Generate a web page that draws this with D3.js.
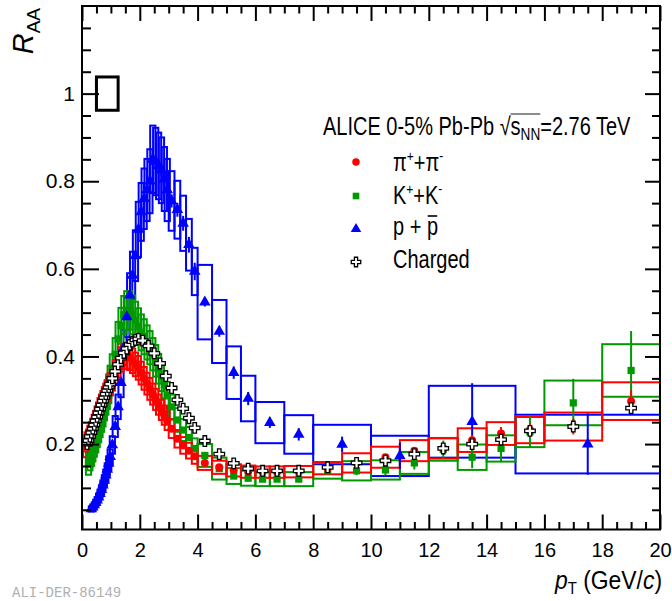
<!DOCTYPE html>
<html>
<head>
<meta charset="utf-8">
<script src="https://cdn.jsdelivr.net/npm/d3@7"></script>
<style>
  body { margin: 0; background: #fff; }
  text { font-family: "Liberation Sans", Arial, sans-serif; }
</style>
</head>
<body>
<div id="chart"></div>
<script>
// ---- data ----
// pions
const edgesPi = [0.1,0.15,0.2,0.25,0.3,0.35,0.4,0.45,0.5,0.55,0.6,0.65,0.7,0.75,0.8,0.85,0.9,0.95,1.0,
  1.1,1.2,1.3,1.4,1.5,1.6,1.7,1.8,1.9,2.0, 2.1,2.2,2.3,2.4,2.5,2.6,2.7,2.8,2.9,3.0,
  3.2,3.4,3.6,3.8,4.0, 4.5,5,5.5,6,6.5,7,8,9,10,11,12,13,14,15,16,18,20];
const raaPi = [0.195,0.205,0.213,0.222,0.23,0.238,0.247,0.256,0.265,0.274,0.283,0.291,0.299,0.307,0.315,0.322,0.33,0.337,
  0.348,0.365,0.38,0.393,0.4,0.401,0.397,0.39,0.382,0.374,
  0.362,0.35,0.338,0.326,0.314,0.302,0.29,0.278,0.266,0.254,
  0.235,0.212,0.197,0.185,0.172,
  0.157,0.147,0.14,0.137,0.136,0.136,0.137,0.145,0.157,0.17,0.185,0.19,0.209,0.224,0.232,0.24,0.298];
const sysPi = [0.025,0.022,0.02,0.02,0.02,0.02,0.02,0.02,0.021,0.021,0.022,0.022,0.022,0.023,0.023,0.024,0.024,0.025,
  0.026,0.027,0.028,0.028,0.029,0.029,0.028,0.028,0.027,0.027,
  0.026,0.026,0.025,0.025,0.024,0.024,0.023,0.023,0.022,0.022,
  0.021,0.02,0.019,0.018,0.017,
  0.016,0.015,0.014,0.014,0.013,0.013,0.013,0.014,0.022,0.024,0.024,0.023,0.027,0.026,0.03,0.032,0.043];
const statPi = [0.002,0.002,0.002,0.002,0.002,0.002,0.002,0.002,0.002,0.002,0.002,0.002,0.002,0.002,0.002,0.002,0.002,0.002,
  0.002,0.002,0.002,0.002,0.002,0.002,0.002,0.002,0.002,0.002,
  0.002,0.002,0.002,0.002,0.002,0.002,0.002,0.002,0.002,0.002,
  0.003,0.003,0.003,0.003,0.003,
  0.003,0.003,0.003,0.003,0.004,0.004,0.004,0.005,0.006,0.007,0.008,0.01,0.012,0.015,0.015,0.018,0.025];

// kaons
const edgesK = [0.2,0.25,0.3,0.35,0.4,0.45,0.5,0.55,0.6,0.65,0.7,0.75,0.8,0.85,0.9,0.95,1.0,
  1.1,1.2,1.3,1.4,1.5,1.6,1.7,1.8,1.9,2.0, 2.1,2.2,2.3,2.4,2.5,2.6,2.7,2.8,2.9,3.0,
  3.2,3.4,3.6,3.8,4.0, 4.5,5,5.5,6,6.5,7,8,9,10,11,12,13,14,15,16,18,20];
const raaK = [0.155,0.165,0.175,0.186,0.197,0.208,0.22,0.232,0.244,0.257,0.27,0.284,0.298,0.312,0.326,0.345,
  0.37,0.405,0.44,0.47,0.495,0.505,0.505,0.495,0.482,0.468,
  0.455,0.445,0.432,0.42,0.405,0.39,0.372,0.354,0.335,0.312,
  0.285,0.255,0.232,0.215,0.19,
  0.174,0.144,0.127,0.122,0.12,0.12,0.12,0.139,0.139,0.141,0.157,0.188,0.17,0.19,0.228,0.294,0.368];
const sysK = [0.025,0.025,0.025,0.026,0.026,0.027,0.027,0.028,0.028,0.029,0.03,0.03,0.031,0.032,0.033,0.034,
  0.035,0.037,0.039,0.041,0.043,0.044,0.044,0.044,0.043,0.042,
  0.041,0.04,0.039,0.038,0.037,0.036,0.034,0.033,0.031,0.03,
  0.028,0.027,0.025,0.024,0.023,
  0.026,0.025,0.018,0.017,0.016,0.016,0.016,0.018,0.022,0.022,0.025,0.026,0.029,0.03,0.035,0.051,0.06];
const statK = [0.003,0.003,0.003,0.003,0.003,0.003,0.003,0.003,0.003,0.003,0.003,0.003,0.003,0.003,0.003,0.003,
  0.003,0.003,0.003,0.003,0.003,0.003,0.003,0.003,0.003,0.003,
  0.004,0.004,0.004,0.004,0.004,0.004,0.004,0.004,0.004,0.004,
  0.005,0.005,0.005,0.005,0.005,
  0.005,0.005,0.005,0.006,0.006,0.006,0.007,0.008,0.01,0.012,0.015,0.02,0.025,0.03,0.035,0.055,0.09];

// protons
const edgesP = [0.3,0.35,0.4,0.45,0.5,0.55,0.6,0.65,0.7,0.75,0.8,0.85,0.9,0.95,1.0,
  1.1,1.2,1.3,1.4,1.5,1.6,1.7,1.8,1.9,2.0, 2.1,2.2,2.3,2.4,2.5,2.6,2.7,2.8,2.9,3.0,
  3.2,3.4,3.6,3.8,4.0, 4.5,5,5.5,6,7,8,10,12,15,20];
const raaP = [0.052,0.056,0.061,0.066,0.072,0.079,0.087,0.096,0.106,0.117,0.129,0.142,0.156,0.171,
  0.198,0.24,0.285,0.34,0.42,0.49,0.54,0.585,0.63,0.69,
  0.73,0.76,0.78,0.8,0.85,0.845,0.835,0.825,0.805,0.78,
  0.755,0.735,0.704,0.655,0.594,
  0.524,0.457,0.363,0.304,0.249,0.222,0.199,0.173,0.251,0.2];
const sysP = [0.006,0.006,0.006,0.007,0.007,0.008,0.009,0.01,0.011,0.012,0.013,0.014,0.016,0.017,
  0.02,0.024,0.028,0.033,0.04,0.046,0.05,0.054,0.058,0.063,
  0.066,0.069,0.071,0.073,0.077,0.077,0.076,0.075,0.073,0.071,
  0.068,0.066,0.063,0.059,0.054,
  0.085,0.072,0.06,0.052,0.047,0.044,0.045,0.046,0.082,0.067];
const statP = [0.002,0.002,0.002,0.002,0.002,0.002,0.002,0.002,0.002,0.002,0.002,0.002,0.002,0.002,
  0.003,0.003,0.004,0.004,0.005,0.006,0.007,0.008,0.009,0.01,
  0.012,0.012,0.013,0.013,0.014,0.014,0.015,0.015,0.016,0.016,
  0.015,0.016,0.017,0.018,0.02,
  0.01,0.012,0.014,0.015,0.012,0.014,0.018,0.03,0.088,0.07];

// unidentified charged hadrons
const edgesCh = [0.15,0.2,0.25,0.3,0.35,0.4,0.45,0.5,0.55,0.6,0.65,0.7,0.75,0.8,0.85,0.9,0.95,1.0,
  1.1,1.2,1.3,1.4,1.5,1.6,1.7,1.8,1.9,2.0, 2.2,2.4,2.6,2.8,3.0,3.2,3.4,3.6,3.8,4.0,
  4.5,5,5.5,6,6.5,7,8,9,10,11,12,13,14,15,16,18,20];
const raaCh = [0.2,0.208,0.217,0.226,0.235,0.244,0.253,0.262,0.271,0.28,0.289,0.298,0.306,0.314,0.322,0.33,0.337,
  0.35,0.366,0.382,0.396,0.408,0.418,0.427,0.434,0.438,0.44,
  0.436,0.424,0.407,0.384,0.355,0.328,0.301,0.281,0.259,0.237,
  0.207,0.177,0.156,0.144,0.139,0.139,0.139,0.147,0.157,0.162,0.177,0.19,0.2,0.21,0.23,0.24,0.282];

// normalisation uncertainty box at R_AA = 1
const normBox = {ptLo: 0.5, ptHi: 1.25, lo: 0.962, hi: 1.038};

const xMajor = [0,2,4,6,8,10,12,14,16,18,20];
const xTickLabels = ["0","2","4","6","8","10","12","14","16","18","20"];
const yMajor = [0.2,0.4,0.6,0.8,1];
const yTickLabels = ["0.2","0.4","0.6","0.8","1"];

// ---- chart ----
let svg = d3.select("#chart")
    .append("svg")
    .attr("width", 672)
    .attr("height", 601);

let x = d3.scaleLinear().domain([0, 20]).range([82, 660]);
let y = d3.scaleLinear().domain([0.005, 1.2]).range([529.5, 6]);

function bins(edges, vals, sys, stat) {
    return vals.map(function(v, i) {
        return {lo: edges[i], hi: edges[i+1], v: v, sys: sys ? sys[i] : 0, stat: stat ? stat[i] : 0};
    });
}

let pions = bins(edgesPi, raaPi, sysPi, statPi),
    kaons = bins(edgesK, raaK, sysK, statK),
    protons = bins(edgesP, raaP, sysP, statP),
    charged = bins(edgesCh, raaCh);

const RED = "#ff0000", GREEN = "#009900", BLUE = "#0000ff";

function mid(d) { return (d.lo + d.hi) / 2; }
function halfW(d) { return Math.max((d.hi - d.lo) / 2, 0.09); }

function drawBoxes(data, color) {
    svg.append("g").selectAll("rect")
        .data(data)
        .enter()
        .append("rect")
        .attr("x", function(d) { return x(mid(d) - halfW(d)); })
        .attr("width", function(d) { return x(mid(d) + halfW(d)) - x(mid(d) - halfW(d)); })
        .attr("y", function(d) { return y(d.v + d.sys); })
        .attr("height", function(d) { return y(d.v - d.sys) - y(d.v + d.sys); })
        .attr("fill", "none")
        .attr("stroke", color)
        .attr("stroke-width", 2);
}

function drawStat(data, color) {
    svg.append("g").selectAll("line")
        .data(data)
        .enter()
        .append("line")
        .attr("x1", function(d) { return x(mid(d)); })
        .attr("x2", function(d) { return x(mid(d)); })
        .attr("y1", function(d) { return y(d.v - d.stat); })
        .attr("y2", function(d) { return y(d.v + d.stat); })
        .attr("stroke", color)
        .attr("stroke-width", 2);
}

function drawMarkers(data, type, size, fill, stroke) {
    let sym = d3.symbol().type(type).size(size);
    svg.append("g").selectAll("path")
        .data(data)
        .enter()
        .append("path")
        .attr("d", sym)
        .attr("transform", function(d) { return "translate(" + x(mid(d)) + "," + y(d.v) + ")"; })
        .attr("fill", fill)
        .attr("stroke", stroke || "none")
        .attr("stroke-width", 1.3);
}

drawBoxes(protons, BLUE);
drawBoxes(kaons, GREEN);
drawBoxes(pions, RED);

drawStat(protons, BLUE);
drawStat(kaons, GREEN);
drawStat(pions, RED);

drawMarkers(kaons, d3.symbolSquare, 52, GREEN);
drawMarkers(protons, d3.symbolTriangle, 58, BLUE);
drawMarkers(pions, d3.symbolCircle, 50, RED);
drawMarkers(charged, d3.symbolCross, 62, "#fff", "#000");

// normalisation box
svg.append("rect")
    .attr("x", x(normBox.ptLo))
    .attr("width", x(normBox.ptHi) - x(normBox.ptLo))
    .attr("y", y(normBox.hi))
    .attr("height", y(normBox.lo) - y(normBox.hi))
    .attr("fill", "none")
    .attr("stroke", "#000")
    .attr("stroke-width", 3);

// ---- axes ----
let xMinor = d3.range(0, 20.001, 0.5).filter(function(v) { return Math.abs(v % 2) > 1e-6; });
let yMinor = d3.range(0.05, 1.17, 0.05).filter(function(v) { return Math.abs(Math.round(v * 5) - v * 5) > 1e-6; });

function addAxis(axis, tx, ty, fontSize) {
    let g = svg.append("g")
        .attr("transform", "translate(" + tx + "," + ty + ")")
        .call(axis);
    g.select(".domain").remove();
    g.selectAll("line").attr("stroke-width", 2);
    g.attr("font-family", "Liberation Sans, Arial, sans-serif").attr("font-size", fontSize || 20);
    return g;
}

addAxis(d3.axisBottom(x).tickValues(xMajor).tickSize(-15).tickPadding(13)
    .tickFormat(function(d, i) { return xTickLabels[i]; }), 0, 529.5, 20);
addAxis(d3.axisBottom(x).tickValues(xMinor).tickSize(-7.5).tickFormat(""), 0, 529.5);
addAxis(d3.axisTop(x).tickValues(xMajor).tickSize(-15).tickFormat(""), 0, 6);
addAxis(d3.axisTop(x).tickValues(xMinor).tickSize(-7.5).tickFormat(""), 0, 6);

addAxis(d3.axisLeft(y).tickValues(yMajor).tickSize(-17).tickPadding(7)
    .tickFormat(function(d, i) { return yTickLabels[i]; }), 82, 0, 21);
addAxis(d3.axisLeft(y).tickValues(yMinor).tickSize(-9).tickFormat(""), 82, 0);
addAxis(d3.axisRight(y).tickValues(yMajor).tickSize(-15).tickFormat(""), 660, 0);
addAxis(d3.axisRight(y).tickValues(yMinor).tickSize(-8).tickFormat(""), 660, 0);

// frame
svg.append("rect")
    .attr("x", 82).attr("y", 6)
    .attr("width", 578).attr("height", 523.5)
    .attr("fill", "none")
    .attr("stroke", "#000")
    .attr("stroke-width", 2);

// axis titles
let yTitle = svg.append("text")
    .attr("transform", "translate(33,8) rotate(-90)")
    .attr("text-anchor", "end");
yTitle.append("tspan").style("font-style", "italic").style("font-size", "29px").text("R");
yTitle.append("tspan").attr("dy", 7).style("font-size", "19px").text("AA");

let xTitleG = svg.append("g").attr("transform", "translate(662,589) scale(0.88,1)");
let xTitle = xTitleG.append("text").attr("text-anchor", "end").style("font-size", "26px");
xTitle.append("tspan").style("font-style", "italic").text("p");
xTitle.append("tspan").attr("dy", 5).style("font-size", "17px").text("T");
xTitle.append("tspan").attr("dy", -5).text(" (GeV/");
xTitle.append("tspan").style("font-style", "italic").text("c");
xTitle.append("tspan").text(")");

// ---- legend ----
let titleG = svg.append("g").attr("transform", "translate(323,135) scale(0.8,1)");
let title = titleG.append("text").style("font-size", "25px");
title.append("tspan").text("ALICE 0-5% Pb-Pb ");
title.append("tspan").text("\u221A");
title.append("tspan").text("s");
title.append("tspan").attr("dy", 5).style("font-size", "17px").text("NN");
title.append("tspan").attr("dy", -5).text("=2.76 TeV");
let s0 = title.node().getExtentOfChar(18), s1 = title.node().getExtentOfChar(20);
titleG.append("line")
    .attr("x1", s0.x).attr("x2", s1.x + s1.width)
    .attr("y1", -21).attr("y2", -21)
    .attr("stroke", "#000").attr("stroke-width", 1);

const legendX = 356, legendTextX = 393;
const legendRows = [
    {y: 162, type: d3.symbolCircle, size: 44, fill: RED},
    {y: 196, type: d3.symbolSquare, size: 44, fill: GREEN},
    {y: 229, type: d3.symbolTriangle, size: 48, fill: BLUE},
    {y: 262, type: d3.symbolCross, size: 50, fill: "#fff", stroke: "#000"}
];
legendRows.forEach(function(r) {
    svg.append("path")
        .attr("d", d3.symbol().type(r.type).size(r.size))
        .attr("transform", "translate(" + legendX + "," + r.y + ")")
        .attr("fill", r.fill)
        .attr("stroke", r.stroke || "none")
        .attr("stroke-width", 1.3);
});

function legendText(baseY) {
    let g = svg.append("g").attr("transform", "translate(" + legendTextX + "," + baseY + ") scale(0.8,1)");
    return g;
}

let g1 = legendText(171);
let t1 = g1.append("text").style("font-size", "25px");
t1.append("tspan").text("\u03C0");
t1.append("tspan").attr("dy", -10).style("font-size", "15px").text("+");
t1.append("tspan").attr("dy", 10).text("+\u03C0");
t1.append("tspan").attr("dy", -10).style("font-size", "15px").text("-");

let g2 = legendText(204);
let t2 = g2.append("text").style("font-size", "25px");
t2.append("tspan").text("K");
t2.append("tspan").attr("dy", -10).style("font-size", "15px").text("+");
t2.append("tspan").attr("dy", 10).text("+K");
t2.append("tspan").attr("dy", -10).style("font-size", "15px").text("-");

let g3 = legendText(235);
let t3 = g3.append("text").style("font-size", "25px").text("p + p");
let pe = t3.node().getExtentOfChar(4);
g3.append("line")
    .attr("x1", pe.x + 1).attr("x2", pe.x + pe.width - 1)
    .attr("y1", -19).attr("y2", -19)
    .attr("stroke", "#000").attr("stroke-width", 1.6);

let g4 = legendText(268);
g4.append("text").style("font-size", "25px").text("Charged");

// figure id
svg.append("text")
    .attr("x", 12).attr("y", 597)
    .style("font-family", "Liberation Mono, DejaVu Sans Mono, monospace")
    .style("font-size", "14px")
    .attr("fill", "#b0b0b0")
    .text("ALI-DER-86149");
</script>
</body>
</html>
